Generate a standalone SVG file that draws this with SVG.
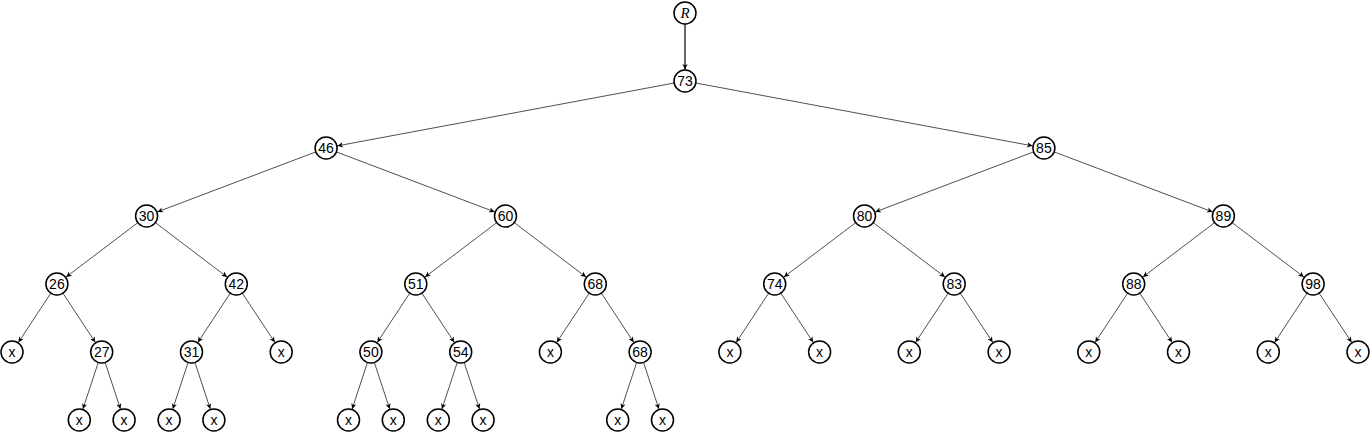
<svg xmlns="http://www.w3.org/2000/svg" width="1372" height="433" viewBox="0 0 1372 433">
<style>
.n circle{fill:#fff;stroke:#000;stroke-width:1.5}
.n text{font-family:"Liberation Sans","DejaVu Sans",sans-serif;font-size:14px;text-anchor:middle;fill:#000}
.n text.r{font-family:"Liberation Serif",serif;font-style:italic;font-size:15px;fill:#000}
#edges line{stroke:#222;stroke-width:0.8;marker-end:url(#ah)}
#edges line.root{stroke:#000;stroke-width:1.2}
</style>
<defs>
<marker id="ah" markerUnits="userSpaceOnUse" markerWidth="30" markerHeight="10" refX="11.6" refY="0" orient="auto" overflow="visible">
<path d="M0,0 L-5.5,-2.6 L-4,0 L-5.5,2.6 z" fill="#000"/>
</marker>
</defs>
<rect width="1372" height="433" fill="#fff"/>
<g id="edges">
<line class="root" x1="685" y1="13" x2="685" y2="81"/>
<line x1="685" y1="81" x2="326.1" y2="148"/>
<line x1="685" y1="81" x2="1043.9" y2="148"/>
<line x1="326.1" y1="148" x2="146.6" y2="216"/>
<line x1="326.1" y1="148" x2="505.5" y2="216"/>
<line x1="1043.9" y1="148" x2="864.5" y2="216"/>
<line x1="1043.9" y1="148" x2="1223.4" y2="216"/>
<line x1="146.6" y1="216" x2="56.9" y2="284"/>
<line x1="146.6" y1="216" x2="236.3" y2="284"/>
<line x1="505.5" y1="216" x2="415.8" y2="284"/>
<line x1="505.5" y1="216" x2="595.3" y2="284"/>
<line x1="864.5" y1="216" x2="774.7" y2="284"/>
<line x1="864.5" y1="216" x2="954.2" y2="284"/>
<line x1="1223.4" y1="216" x2="1133.7" y2="284"/>
<line x1="1223.4" y1="216" x2="1313.1" y2="284"/>
<line x1="56.9" y1="284" x2="12" y2="352"/>
<line x1="56.9" y1="284" x2="101.7" y2="352"/>
<line x1="236.3" y1="284" x2="191.5" y2="352"/>
<line x1="236.3" y1="284" x2="281.2" y2="352"/>
<line x1="415.8" y1="284" x2="370.9" y2="352"/>
<line x1="415.8" y1="284" x2="460.7" y2="352"/>
<line x1="595.3" y1="284" x2="550.4" y2="352"/>
<line x1="595.3" y1="284" x2="640.1" y2="352"/>
<line x1="774.7" y1="284" x2="729.9" y2="352"/>
<line x1="774.7" y1="284" x2="819.6" y2="352"/>
<line x1="954.2" y1="284" x2="909.3" y2="352"/>
<line x1="954.2" y1="284" x2="999.1" y2="352"/>
<line x1="1133.7" y1="284" x2="1088.8" y2="352"/>
<line x1="1133.7" y1="284" x2="1178.5" y2="352"/>
<line x1="1313.1" y1="284" x2="1268.3" y2="352"/>
<line x1="1313.1" y1="284" x2="1358" y2="352"/>
<line x1="101.7" y1="352" x2="79.3" y2="420"/>
<line x1="101.7" y1="352" x2="124.1" y2="420"/>
<line x1="191.5" y1="352" x2="169.1" y2="420"/>
<line x1="191.5" y1="352" x2="213.9" y2="420"/>
<line x1="370.9" y1="352" x2="348.5" y2="420"/>
<line x1="370.9" y1="352" x2="393.3" y2="420"/>
<line x1="460.7" y1="352" x2="438.3" y2="420"/>
<line x1="460.7" y1="352" x2="483.1" y2="420"/>
<line x1="640.1" y1="352" x2="617.7" y2="420"/>
<line x1="640.1" y1="352" x2="662.5" y2="420"/>
</g>
<g id="nR" class="n"><circle cx="685" cy="13" r="11"/><text class="r" x="685" y="18.2">R</text></g>
<g id="n73" class="n"><circle cx="685" cy="81" r="11"/><text x="685" y="86">73</text></g>
<g id="n46" class="n"><circle cx="326.1" cy="148" r="11"/><text x="326.1" y="153">46</text></g>
<g id="n85" class="n"><circle cx="1043.9" cy="148" r="11"/><text x="1043.9" y="153">85</text></g>
<g id="n30" class="n"><circle cx="146.6" cy="216" r="11"/><text x="146.6" y="221">30</text></g>
<g id="n60" class="n"><circle cx="505.5" cy="216" r="11"/><text x="505.5" y="221">60</text></g>
<g id="n80" class="n"><circle cx="864.5" cy="216" r="11"/><text x="864.5" y="221">80</text></g>
<g id="n89" class="n"><circle cx="1223.4" cy="216" r="11"/><text x="1223.4" y="221">89</text></g>
<g id="n26" class="n"><circle cx="56.9" cy="284" r="11"/><text x="56.9" y="289">26</text></g>
<g id="n42" class="n"><circle cx="236.3" cy="284" r="11"/><text x="236.3" y="289">42</text></g>
<g id="n51" class="n"><circle cx="415.8" cy="284" r="11"/><text x="415.8" y="289">51</text></g>
<g id="n68a" class="n"><circle cx="595.3" cy="284" r="11"/><text x="595.3" y="289">68</text></g>
<g id="n74" class="n"><circle cx="774.7" cy="284" r="11"/><text x="774.7" y="289">74</text></g>
<g id="n83" class="n"><circle cx="954.2" cy="284" r="11"/><text x="954.2" y="289">83</text></g>
<g id="n88" class="n"><circle cx="1133.7" cy="284" r="11"/><text x="1133.7" y="289">88</text></g>
<g id="n98" class="n"><circle cx="1313.1" cy="284" r="11"/><text x="1313.1" y="289">98</text></g>
<g id="x1" class="n"><circle cx="12" cy="352" r="11"/><text x="12" y="356.5">x</text></g>
<g id="n27" class="n"><circle cx="101.7" cy="352" r="11"/><text x="101.7" y="357">27</text></g>
<g id="n31" class="n"><circle cx="191.5" cy="352" r="11"/><text x="191.5" y="357">31</text></g>
<g id="x2" class="n"><circle cx="281.2" cy="352" r="11"/><text x="281.2" y="356.5">x</text></g>
<g id="n50" class="n"><circle cx="370.9" cy="352" r="11"/><text x="370.9" y="357">50</text></g>
<g id="n54" class="n"><circle cx="460.7" cy="352" r="11"/><text x="460.7" y="357">54</text></g>
<g id="x3" class="n"><circle cx="550.4" cy="352" r="11"/><text x="550.4" y="356.5">x</text></g>
<g id="n68b" class="n"><circle cx="640.1" cy="352" r="11"/><text x="640.1" y="357">68</text></g>
<g id="x4" class="n"><circle cx="729.9" cy="352" r="11"/><text x="729.9" y="356.5">x</text></g>
<g id="x5" class="n"><circle cx="819.6" cy="352" r="11"/><text x="819.6" y="356.5">x</text></g>
<g id="x6" class="n"><circle cx="909.3" cy="352" r="11"/><text x="909.3" y="356.5">x</text></g>
<g id="x7" class="n"><circle cx="999.1" cy="352" r="11"/><text x="999.1" y="356.5">x</text></g>
<g id="x8" class="n"><circle cx="1088.8" cy="352" r="11"/><text x="1088.8" y="356.5">x</text></g>
<g id="x9" class="n"><circle cx="1178.5" cy="352" r="11"/><text x="1178.5" y="356.5">x</text></g>
<g id="x10" class="n"><circle cx="1268.3" cy="352" r="11"/><text x="1268.3" y="356.5">x</text></g>
<g id="x11" class="n"><circle cx="1358" cy="352" r="11"/><text x="1358" y="356.5">x</text></g>
<g id="x12" class="n"><circle cx="79.3" cy="420" r="11"/><text x="79.3" y="424.5">x</text></g>
<g id="x13" class="n"><circle cx="124.1" cy="420" r="11"/><text x="124.1" y="424.5">x</text></g>
<g id="x14" class="n"><circle cx="169.1" cy="420" r="11"/><text x="169.1" y="424.5">x</text></g>
<g id="x15" class="n"><circle cx="213.9" cy="420" r="11"/><text x="213.9" y="424.5">x</text></g>
<g id="x16" class="n"><circle cx="348.5" cy="420" r="11"/><text x="348.5" y="424.5">x</text></g>
<g id="x17" class="n"><circle cx="393.3" cy="420" r="11"/><text x="393.3" y="424.5">x</text></g>
<g id="x18" class="n"><circle cx="438.3" cy="420" r="11"/><text x="438.3" y="424.5">x</text></g>
<g id="x19" class="n"><circle cx="483.1" cy="420" r="11"/><text x="483.1" y="424.5">x</text></g>
<g id="x20" class="n"><circle cx="617.7" cy="420" r="11"/><text x="617.7" y="424.5">x</text></g>
<g id="x21" class="n"><circle cx="662.5" cy="420" r="11"/><text x="662.5" y="424.5">x</text></g>
</svg>
